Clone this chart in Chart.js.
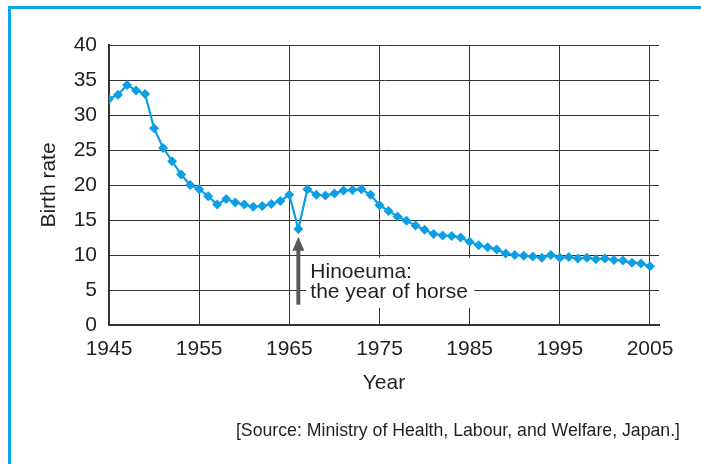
<!DOCTYPE html>
<html>
<head>
<meta charset="utf-8">
<script src="https://cdn.jsdelivr.net/npm/chart.js@4/dist/chart.umd.min.js"></script>
<style>
    body { margin: 0; background: #fff; }
    #wrap { position: relative; width: 701px; height: 464px; overflow: hidden; }
    #frame {
        position: absolute; left: 8px; top: 6px; width: 900px; height: 700px;
        border-left: 3px solid #0aa6ec; border-top: 3px solid #0aa6ec;
    }
    #birth-chart { position: absolute; left: 0; top: 0; }
    #source {
        position: absolute; right: 21px; top: 420px;
        font: 17.7px "Liberation Sans", Arial, Helvetica, sans-serif; color: #231f20;
        white-space: nowrap;
    }
</style>
</head>
<body>
<div id="wrap">
    <div id="frame"></div>
    <canvas id="birth-chart" width="701" height="464"></canvas>
    <div id="source">[Source: Ministry of Health, Labour, and Welfare, Japan.]</div>
</div>
<script>
const years = [
    1945, 1946, 1947, 1948, 1949, 1950, 1951, 1952, 1953, 1954,
    1955, 1956, 1957, 1958, 1959, 1960, 1961, 1962, 1963, 1964,
    1965, 1966, 1967, 1968, 1969, 1970, 1971, 1972, 1973, 1974,
    1975, 1976, 1977, 1978, 1979, 1980, 1981, 1982, 1983, 1984,
    1985, 1986, 1987, 1988, 1989, 1990, 1991, 1992, 1993, 1994,
    1995, 1996, 1997, 1998, 1999, 2000, 2001, 2002, 2003, 2004,
    2005
];
const birthRates = [
    32.3, 32.9, 34.3, 33.5, 33.0, 28.1, 25.3, 23.4, 21.5, 20.0,
    19.4, 18.4, 17.2, 18.0, 17.5, 17.2, 16.9, 17.0, 17.3, 17.7,
    18.6, 13.7, 19.4, 18.6, 18.5, 18.8, 19.2, 19.3, 19.4, 18.6,
    17.1, 16.3, 15.5, 14.9, 14.2, 13.6, 13.0, 12.8, 12.7, 12.5,
    11.9, 11.4, 11.1, 10.8, 10.2, 10.0, 9.9, 9.8, 9.6, 10.0,
    9.6, 9.7, 9.5, 9.6, 9.4, 9.5, 9.3, 9.2, 8.9, 8.8,
    8.4
];
const xTicks = [1945, 1955, 1965, 1975, 1985, 1995, 2005];
const noteYear = 1966;
const noteLines = ['Hinoeuma:', 'the year of horse'];

const FONT = '"Liberation Sans", Arial, Helvetica, sans-serif';
const INK = '#231f20';
const GRID = '#333333';

// arrow + label pointing at the 1966 dip
const hinoeumaNote = {
    id: 'hinoeumaNote',
    afterDraw(chart) {
        const ctx = chart.ctx;
        const x = chart.scales.x.getPixelForValue(noteYear);
        const y = chart.scales.y;
        const tip = y.getPixelForValue(12.6);
        const tail = y.getPixelForValue(2.9);
        ctx.save();
        // white box behind the text
        ctx.fillStyle = '#fff';
        ctx.fillRect(x + 8, y.getPixelForValue(9.6), 168, 50);
        ctx.fillStyle = INK;
        ctx.font = '21px ' + FONT;
        ctx.textBaseline = 'alphabetic';
        ctx.fillText(noteLines[0], x + 12, y.getPixelForValue(6.7));
        ctx.fillText(noteLines[1], x + 12, y.getPixelForValue(3.9));
        // arrow
        ctx.strokeStyle = '#58595b';
        ctx.fillStyle = '#58595b';
        ctx.lineWidth = 4;
        ctx.beginPath();
        ctx.moveTo(x, tail);
        ctx.lineTo(x, tip + 12);
        ctx.stroke();
        ctx.beginPath();
        ctx.moveTo(x, tip);
        ctx.lineTo(x - 6, tip + 14);
        ctx.lineTo(x + 6, tip + 14);
        ctx.closePath();
        ctx.fill();
        ctx.restore();
    }
};

const ctx = document.getElementById('birth-chart').getContext('2d');
const birthChart = new Chart(ctx, {
    type: 'line',
    data: {
        datasets: [{
            label: 'Birth rate',
            data: years.map((yr, i) => ({x: yr, y: birthRates[i]})),
            borderColor: '#0d9fe4',
            backgroundColor: '#0d9fe4',
            borderWidth: 2.2,
            pointStyle: 'rectRot',
            pointRadius: 5,
            pointBorderWidth: 0,
            tension: 0,
            fill: false
        }]
    },
    options: {
        responsive: false,
        animation: false,
        layout: {
            padding: {left: 37, right: 42, top: 45, bottom: 68}
        },
        plugins: {
            legend: {display: false},
            tooltip: {enabled: false}
        },
        scales: {
            x: {
                type: 'linear',
                min: 1945,
                max: 2006,
                afterBuildTicks: (scale) => {
                    scale.ticks = xTicks.map(v => ({value: v}));
                },
                afterFit: (scale) => { scale.height = 71; },
                grid: {color: GRID, lineWidth: 1, drawTicks: false},
                border: {color: GRID, width: 2},
                ticks: {
                    color: INK,
                    padding: 12,
                    maxRotation: 0,
                    font: {family: FONT, size: 21},
                    callback: (v) => String(v)
                },
                title: {
                    display: true,
                    text: 'Year',
                    color: INK,
                    padding: 0,
                    font: {family: FONT, size: 21}
                }
            },
            y: {
                min: 0,
                max: 40,
                afterFit: (scale) => { scale.width = 72; },
                grid: {color: GRID, lineWidth: 1, drawTicks: false},
                border: {color: GRID, width: 2},
                ticks: {
                    stepSize: 5,
                    color: INK,
                    padding: 12,
                    font: {family: FONT, size: 21}
                },
                title: {
                    display: true,
                    text: 'Birth rate',
                    color: INK,
                    padding: 0,
                    font: {family: FONT, size: 21}
                }
            }
        }
    },
    plugins: [hinoeumaNote]
});
</script>
</body>
</html>
